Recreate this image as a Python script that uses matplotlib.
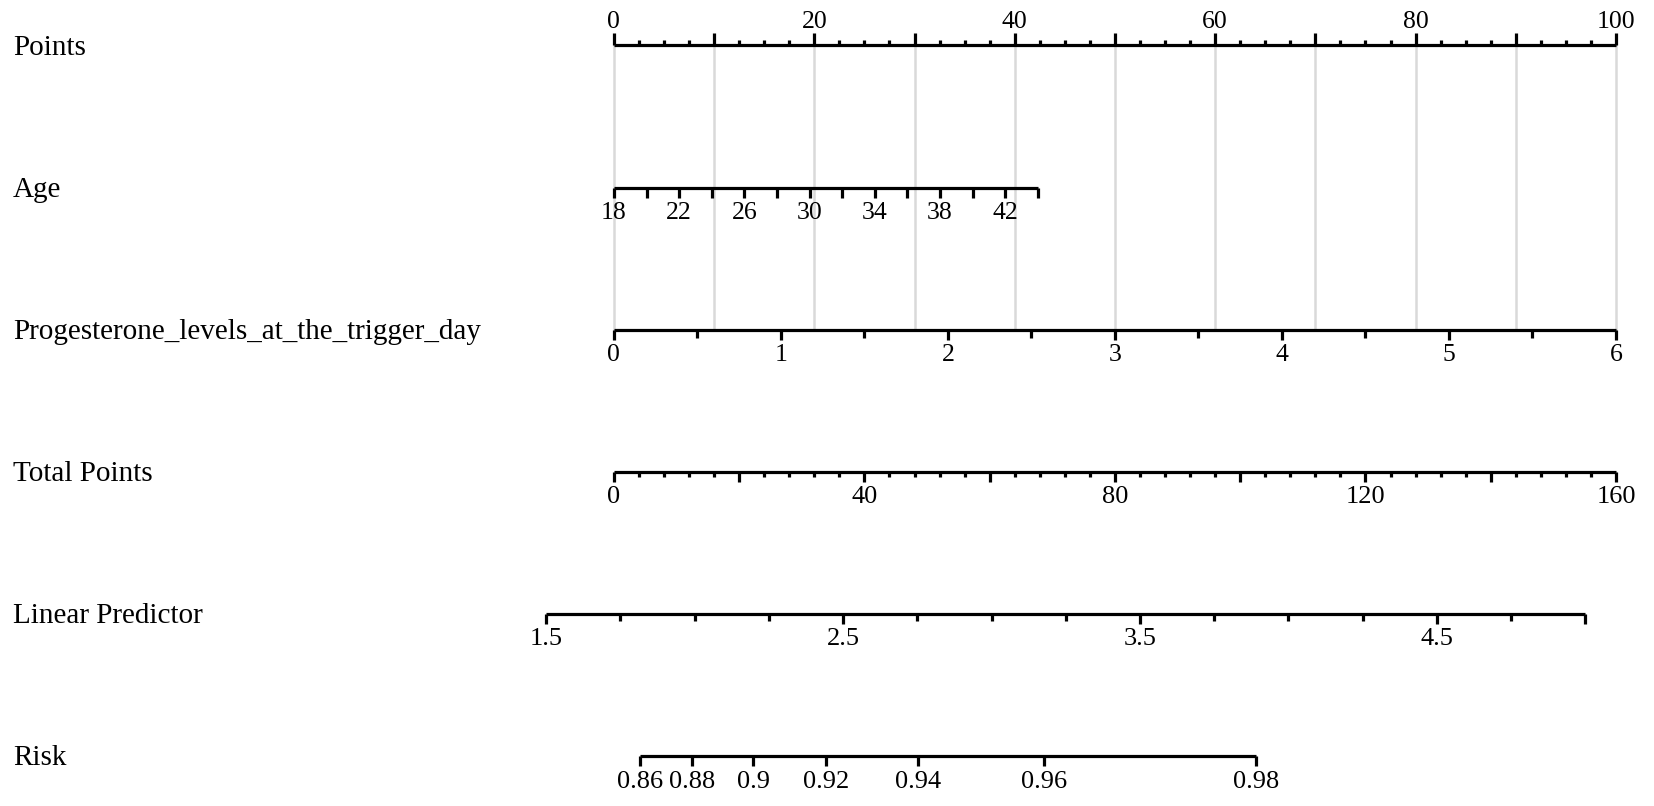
import numpy as np
import matplotlib
matplotlib.use("Agg")
import matplotlib.pyplot as plt
from matplotlib.transforms import blended_transform_factory

# ---------------- data ----------------
row_names = ["Points", "Age", "Progesterone_levels_at_the_trigger_day",
             "Total Points", "Linear Predictor", "Risk"]

points_minor = np.arange(0, 100.01, 2.5)
points_major = np.arange(0, 100.01, 10)
points_labels = np.arange(0, 100.01, 20)

age_ticks = np.arange(18, 44.01, 2)
age_labels = np.arange(18, 42.01, 4)
age_range = [18, 44]
age_points = [0, 42.3]

prog_minor = np.arange(0, 6.01, 0.5)
prog_labels = np.arange(0, 6.01, 1)
prog_range = [0, 6]
prog_points = [0, 100]

tp_minor = np.arange(0, 160.01, 4)
tp_major = np.arange(0, 160.01, 20)
tp_labels = np.arange(0, 160.01, 40)
tp_max = 160

lp_minor = np.arange(1.5, 5.001, 0.25)
lp_labels = [1.5, 2.5, 3.5, 4.5]
lp_at_tp0 = 1.728      # linear predictor at total points = 0
tp_per_lp = 47.4       # total points per unit of linear predictor

risk_labels = [0.86, 0.88, 0.9, 0.92, 0.94, 0.96, 0.98]

# ---------------- layout ----------------
W, H = 1654, 806
fig = plt.figure(figsize=(W / 100, H / 100), dpi=100)
ax = fig.add_axes([0, 0, 1, 1])
ax.set_axis_off()

x0_px, x100_px = 613.9, 1616.0        # Points 0 and 100
px_per_pt = (x100_px - x0_px) / 100
ax.set_xlim(-x0_px / px_per_pt, (W - x0_px) / px_per_pt)
row0_px, row_gap = 45.4, 142.1
ax.set_ylim((H - row0_px) / row_gap, -row0_px / row_gap)
PX = 1 / row_gap  # one pixel in y units

FONT = "Liberation Serif"
LW = 2.3
label_fs = 21
tick_fs = 19

def tp_to_x(tp):
    return np.asarray(tp, float) * 100 / tp_max

def lp_to_x(lp):
    return tp_to_x((np.asarray(lp, float) - lp_at_tp0) * tp_per_lp)

def risk_to_x(r):
    r = np.asarray(r, float)
    return lp_to_x(np.log(r / (1 - r)))

def lin(v, vr, pr):
    return np.interp(v, vr, pr)

def draw_row(i, xs_line, ticks, up=False):
    ax.plot([xs_line[0], xs_line[-1]], [i, i], color="black", lw=LW,
            solid_capstyle="butt", zorder=3)
    for x, L in ticks:
        y2 = i - L * PX if up else i + L * PX
        ax.plot([x, x], [i, y2], color="black", lw=LW,
                solid_capstyle="butt", zorder=3)

def labels(i, xs, texts, up=False, off=22, fs=tick_fs):
    for x, t in zip(xs, texts):
        ax.text(x, i - off * PX if up else i + off * PX, t, ha="center",
                va="center", fontsize=fs, family=FONT, zorder=4)

def fmt(v):
    return f"{v:g}"

# grid lines
for g in points_major:
    ax.plot([g, g], [0, 2], color="#d9d9d9", lw=1.8, zorder=1)

# Points row
ticks = [(x, 12 if np.isclose(x % 10, 0) else 5) for x in points_minor]
draw_row(0, [0, 100], ticks, up=True)
labels(0, points_labels, [fmt(v) for v in points_labels], up=True, off=23, fs=18.5)

# Age
ax_x = lin(age_ticks, age_range, age_points)
draw_row(1, ax_x, [(x, 10) for x in ax_x])
labels(1, lin(age_labels, age_range, age_points), [fmt(v) for v in age_labels], off=25, fs=18.5)

# Progesterone
px_ = lin(prog_minor, prog_range, prog_points)
draw_row(2, px_, [(x, 10 if np.isclose(v % 1, 0) else 8) for x, v in zip(px_, prog_minor)])
labels(2, lin(prog_labels, prog_range, prog_points), [fmt(v) for v in prog_labels], off=25, fs=18.5)

# Total points
tx = tp_to_x(tp_minor)
draw_row(3, tx, [(x, 10 if np.isclose(v % 20, 0) else 5) for x, v in zip(tx, tp_minor)])
labels(3, tp_to_x(tp_labels), [fmt(v) for v in tp_labels], off=25)

# Linear predictor
lx = lp_to_x(lp_minor)
draw_row(4, lx, [(x, 10 if any(np.isclose(v, l) for l in lp_labels) or np.isclose(v, lp_minor[-1]) else 7)
                 for x, v in zip(lx, lp_minor)])
labels(4, lp_to_x(lp_labels), [fmt(v) for v in lp_labels], off=25)

# Risk
rx = risk_to_x(risk_labels)
draw_row(5, rx, [(x, 10) for x in rx])
labels(5, rx, [fmt(v) for v in risk_labels], off=26, fs=19)

# row names
tr = blended_transform_factory(ax.transAxes, ax.transData)
for i, name in enumerate(row_names):
    ax.text(12.7 / W, i + 2.5 * PX, name, transform=tr, ha="left", va="center",
            fontsize=label_fs, family=FONT)

fig.savefig("out.png", dpi=100, facecolor="white")
